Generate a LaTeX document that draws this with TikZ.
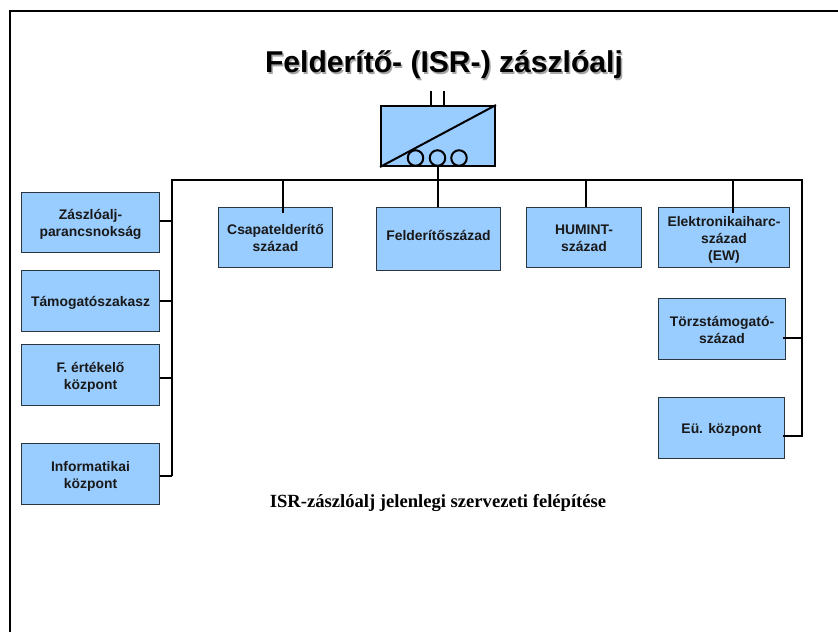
\documentclass[tikz,border=0pt]{standalone}
\usepackage{fontspec}
\setmainfont{Liberation Sans}
\newfontfamily\capfont{Liberation Serif}
\definecolor{boxblue}{HTML}{99CCFF}
\definecolor{boxline}{HTML}{2A3640}
\tikzset{
  orgbox/.style={draw=boxline,line width=1pt,fill=boxblue,inner sep=0pt,align=center,
    font=\bfseries\fontsize{13.9}{17}\selectfont,text=black!90},
  bus/.style={draw=black,line width=2pt,line join=miter},
  unit/.style={draw=black,line width=2pt},
  ttl/.style={inner sep=0pt,font=\bfseries\fontsize{30.1}{33}\selectfont},
  ring/.style={circle,draw=black,line width=2pt,minimum size=15.5pt,inner sep=0pt},
}
\newcommand{\bx}[7][-2.5pt]{\node[orgbox,minimum width=#4pt-#3pt,minimum height=#6pt-#5pt] (#2) at ({(#3+#4)/2},{(#5+#6)/2}) {\raisebox{#1}[\height][\depth]{\begin{tabular}{@{}c@{}}#7\end{tabular}}};}
\begin{document}
\begin{tikzpicture}[x=1pt,y=-1pt]
\useasboundingbox (0,0) rectangle (838,632);
% page frame
\coordinate (fa) at (10,632);
\coordinate (fb) at (10,11);
\coordinate (fc) at (838,11);
\draw[black,line width=2pt] (fa) -- (fb) -- (fc);
% title
\node[ttl,text=black!35] (titleshadow) at (445.5,66.5) {Felderítő- (ISR-) zászlóalj};
\node[ttl,text=black] (title) at (444,65) {Felderítő- (ISR-) zászlóalj};
% unit symbol
\node[draw=black,line width=2pt,fill=boxblue,minimum width=114pt,minimum height=60pt,inner sep=0pt] (unit) at (438,136) {};
\coordinate (p1) at (431,91);
\coordinate (p2) at (444,91);
\draw[unit] (p1) -- (p1 |- unit.north);
\draw[unit] (p2) -- (p2 |- unit.north);
\draw[unit] (unit.south west) -- (unit.north east);
\node[ring] (c1) at (415.5,158) {};
\node[ring] (c2) at (437.5,158) {};
\node[ring] (c3) at (459,158) {};
% boxes
\bx{zp}{21.5}{159.5}{192.5}{252.5}{Zászlóalj-\\parancsnokság}
\bx{ts}{21.5}{159.5}{270.5}{331.5}{Támogatószakasz}
\bx{fe}{21.5}{159.5}{344.5}{405.5}{F. értékelő\\központ}
\bx{ik}{21.5}{159.5}{443.5}{504.5}{Informatikai\\központ}
\bx{cs}{218.5}{332.5}{207.5}{267.5}{Csapatelderítő\\század}
\bx[2pt]{fs}{376.5}{500.5}{207.5}{270.5}{Felderítőszázad}
\bx{hu}{526.5}{641.5}{207.5}{267.5}{HUMINT-\\század}
\bx{el}{658.5}{789.5}{207.5}{267.5}{Elektronikaiharc-\\század\\(EW)}
\bx{to}{658.5}{785.5}{298.5}{359.5}{Törzstámogató-\\század}
\bx{eu}{658.5}{784.5}{397.5}{458.5}{Eü. központ}
% bus junctions
\coordinate (bl) at (172,180);
\coordinate (br) at (802,180);
\coordinate (jl1) at (172,221);
\coordinate (jl2) at (172,301);
\coordinate (jl3) at (172,378);
\coordinate (jl4) at (172,476);
\coordinate (jr1) at (802,338);
\coordinate (jr2) at (802,436);
\coordinate (t1) at (283,180);
\coordinate (t2) at (438,180);
\coordinate (t3) at (586,180);
\coordinate (t4) at (733,180);
\coordinate (e1) at (283,213);
\coordinate (e4) at (733,213);
\coordinate (s1) at (783,338);
\coordinate (s2) at (783,436);
% connectors
\draw[bus] (jl4) -- (bl) -- (br) -- (jr2) -- (s2);
\draw[bus] (unit.south -| t2) -- (t2);
\draw[bus] (t2) -- (t2 |- fs.north);
\draw[bus] (t1) -- (e1);
\draw[bus] (t3) -- (t3 |- hu.north);
\draw[bus] (t4) -- (e4);
\draw[bus] (zp.east |- jl1) -- (jl1);
\draw[bus] (ts.east |- jl2) -- (jl2);
\draw[bus] (fe.east |- jl3) -- (jl3);
\draw[bus] (ik.east |- jl4) -- (jl4);
\draw[bus] (s1) -- (jr1);
% caption
\node[inner sep=0pt,font=\capfont\bfseries\fontsize{18.6}{21}\selectfont] (caption) at (438,503) {ISR-zászlóalj jelenlegi szervezeti felépítése};
\end{tikzpicture}
\end{document}
